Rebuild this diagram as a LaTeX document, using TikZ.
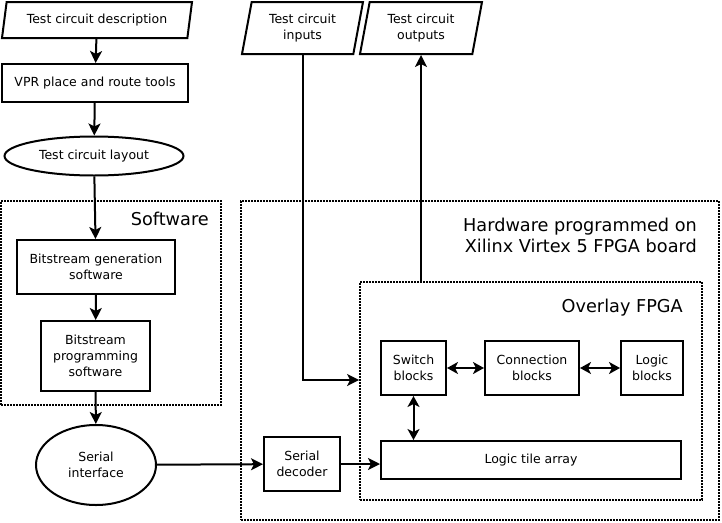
\documentclass[tikz,border=0pt]{standalone}
\usepackage{fontspec}
\setmainfont{DejaVu Sans}
\usepackage{tikz}
\usetikzlibrary{shapes.geometric}
\usetikzlibrary{arrows.meta}
\newcommand{\txtsmall}{\fontsize{12.5}{16}\selectfont}
\newcommand{\txtbig}{\fontsize{17.7}{20.5}\selectfont}
\tikzstyle{arrow} = [line width=2pt,-{Stealth[length=12pt,width=12pt,inset=3pt]}]
\tikzstyle{darrow} = [line width=2pt,{Stealth[length=11pt,width=12pt,inset=3pt]}-{Stealth[length=11pt,width=12pt,inset=3pt]}]
\tikzstyle{block} = [draw,line width=2pt,align=center,inner sep=0pt,font=\txtsmall]
\tikzstyle{oval} = [ellipse,draw,line width=2pt,align=center,inner sep=0pt,font=\txtsmall]
\tikzstyle{io} = [trapezium,draw,line width=2pt,align=center,inner sep=0pt,font=\txtsmall,trapezium stretches body]
\tikzstyle{groupbox} = [draw,line width=1.8pt,dash pattern=on 1.6pt off 1.4pt,inner sep=0pt]
\tikzstyle{title} = [font=\txtbig,inner sep=0pt]

\begin{document}
\begin{tikzpicture}[x=1pt,y=-1pt]
  \useasboundingbox (0,0) rectangle (722,522);
  % dotted groups
  \node[groupbox,minimum width=220,minimum height=204] (sw) at (111,303) {};
  \node[groupbox,minimum width=478,minimum height=319] (hw) at (480,360.5) {};
  \node[groupbox,minimum width=342,minimum height=218] (overlay) at (531,391) {};
  \node[title,anchor=east] (swlabel) at (209,218.5) {Software};
  \node[title,anchor=north east,align=right] (hwlabel) at (697,218) {Hardware programmed on\\Xilinx Virtex 5 FPGA board};
  \node[title,anchor=base east] (ovlabel) at (683,312) {Overlay FPGA};

  % software flow
  \node[io,trapezium left angle=69,trapezium right angle=111,minimum width=190,minimum height=36] (desc) at (97,20) {Test circuit description};
  \node[block,minimum width=186,minimum height=38] (vpr) at (95,83) {VPR place and route tools};
  \node[oval,minimum width=179,minimum height=39] (layout) at (94,156) {Test circuit layout};
  \node[block,minimum width=158,minimum height=54] (bitgen) at (96,267) {Bitstream generation\\software};
  \node[block,minimum width=109,minimum height=70] (bitprog) at (95.5,356) {Bitstream\\programming\\software};
  \node[oval,minimum width=120,minimum height=80] (serial) at (96,465) {Serial\\interface};

  % hardware
  \node[io,trapezium left angle=71,trapezium right angle=109,minimum width=121,minimum height=52] (inputs) at (302.5,28) {Test circuit\\inputs};
  \node[io,trapezium left angle=71,trapezium right angle=109,minimum width=122,minimum height=52] (outputs) at (421,28) {Test circuit\\outputs};
  \node[block,minimum width=76,minimum height=54] (decoder) at (302,464) {Serial\\decoder};
  \node[block,minimum width=65,minimum height=54] (switch) at (413.5,368) {Switch\\blocks};
  \node[block,minimum width=94,minimum height=54] (conn) at (532,368) {Connection\\blocks};
  \node[block,minimum width=62,minimum height=54] (logic) at (652,368) {Logic\\blocks};
  \node[block,minimum width=300,minimum height=38] (tile) at (531,460) {Logic tile array};

  \path[arrow]
    (desc) edge (vpr)
    (vpr) edge (layout)
    (layout) edge (bitgen)
    (bitgen) edge (bitprog)
    (bitprog) edge (serial)
    (serial) edge (decoder)
    (decoder) edge (decoder -| tile.west);
  \draw[arrow] (inputs.south) |- ([yshift=11pt]overlay.west);
  \draw[arrow] (overlay.north -| outputs.south) -- (outputs.south);
  \path[darrow]
    (switch) edge (conn)
    (conn) edge (logic)
    (switch.south) edge (switch.south |- tile.north);
\end{tikzpicture}
\end{document}
